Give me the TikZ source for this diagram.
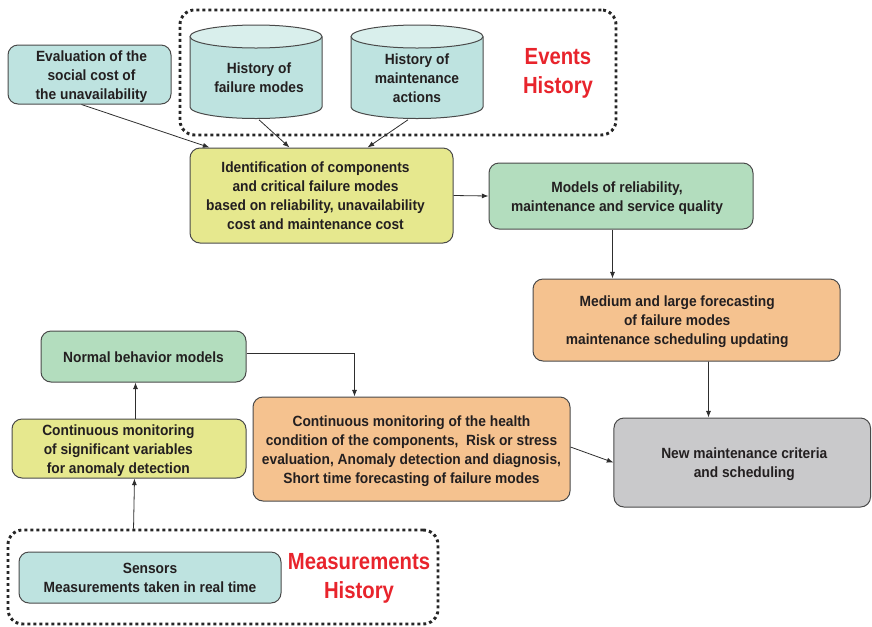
\documentclass[tikz,border=0pt]{standalone}
\usepackage{fontspec}
\setmainfont{Liberation Sans}[FakeStretch=0.93]
\newfontfamily\headfont{Liberation Sans}[FakeStretch=0.87]
\usetikzlibrary{arrows.meta,calc}

\definecolor{ink}{HTML}{231F20}
\definecolor{edge}{HTML}{4A4A4A}
\definecolor{wire}{HTML}{2E2E2E}
\definecolor{cyanfill}{HTML}{BEE3E0}
\definecolor{cyantop}{HTML}{D9EFEC}
\definecolor{yellowfill}{HTML}{E6E88E}
\definecolor{greenfill}{HTML}{B3DDBE}
\definecolor{orangefill}{HTML}{F5C28F}
\definecolor{greyfill}{HTML}{C9C9CB}
\definecolor{headred}{HTML}{E8242C}

% centred lines of text, moved sideways by #1 and slightly lowered
\newsavebox\linesbox
\newcommand\boxtext[2]{%
  \sbox\linesbox{\begin{tabular}{@{}c@{}}#2\end{tabular}}%
  \hspace*{#1}\raisebox{-1.5pt}[\ht\linesbox][\dp\linesbox]{\usebox\linesbox}\hspace*{-#1}}

% database drum centred at x = #1
\newcommand\drum[1]{%
  \filldraw[fill=cyanfill, draw=edge, line width=0.75pt]
    ({#1-66},-36.5) -- ({#1-66},-107)
    arc[start angle=180, end angle=360, x radius=49.5pt, y radius=8.625pt]
    -- ({#1+66},-36.5);
  \filldraw[fill=cyantop, draw=edge, line width=0.75pt]
    (#1,-36.5) ellipse[x radius=49.5pt, y radius=8.625pt];
}

\begin{document}
\begin{tikzpicture}[x=0.75pt, y=0.75pt,
  box/.style={draw=edge, line width=0.75pt, rounded corners=7.5pt, fill=#1,
    font=\bfseries\fontsize{11.1}{14.25}\selectfont, text=ink, inner sep=0pt},
  groupframe/.style={draw=black!85, line width=2.2pt, dash pattern=on 2.2pt off 2.3pt,
    rounded corners=11pt, inner sep=0pt},
  head/.style={font=\headfont\bfseries\fontsize{17.5}{21.5}\selectfont, text=headred,
    align=center, inner sep=0pt},
  drumlabel/.style={font=\bfseries\fontsize{11.1}{14.25}\selectfont, text=ink,
    align=center, inner sep=0pt, minimum height=62.25pt},
  arr/.style={draw=wire, line width=0.6pt, -{Latex[length=5pt, width=3.8pt]}}]

\useasboundingbox (0,0) rectangle (872,-626);

% ---- event records ----
\node[groupframe, minimum width=327pt, minimum height=93.75pt] (events) at (398,-72.5) {};
\drum{256}
\drum{417}
\node[drumlabel] (hfm) at (259,-78) {History of\\failure modes};
\node[drumlabel] (hma) at (417,-78) {History of\\maintenance\\actions};
\node[head] (evh) at (558,-73.5) {Events\\History};

% ---- upper chain ----
\node[box=cyanfill, minimum width=122.25pt, minimum height=44.25pt] (eval) at (89.5,-74.5)
  {\boxtext{1.5pt}{Evaluation of the\\social cost of\\the unavailability}};
\node[box=yellowfill, minimum width=197.25pt, minimum height=71.25pt] (ident) at (321.5,-195.5)
  {\boxtext{-4.5pt}{Identification of components\\and critical failure modes\\based on reliability, unavailability\\cost and maintenance cost}};
\node[box=greenfill, minimum width=198pt, minimum height=49.5pt] (models) at (621,-196)
  {\boxtext{-3pt}{Models of reliability,\\maintenance and service quality}};
\node[box=orangefill, minimum width=230.25pt, minimum height=61.5pt] (medium) at (686.5,-320)
  {\boxtext{-7pt}{Medium and large forecasting\\of failure modes\\maintenance scheduling updating}};
\node[box=greyfill, minimum width=192.4pt, minimum height=66.75pt] (new) at (742.25,-462.5)
  {\boxtext{1.5pt}{New maintenance criteria\\and scheduling}};

% ---- lower chain ----
\node[box=greenfill, minimum width=153.75pt, minimum height=38.25pt] (normal) at (143.5,-356.5)
  {\boxtext{0pt}{Normal behavior models}};
\node[box=yellowfill, minimum width=175.5pt, minimum height=44.25pt] (varmon) at (129,-448.5)
  {\boxtext{-8pt}{Continuous monitoring\\of significant variables\\for anomaly detection}};
\node[box=orangefill, minimum width=237.75pt, minimum height=78pt] (health) at (411.5,-449)
  {\boxtext{0pt}{Continuous monitoring of the health\\condition of the components,\ \ Risk or stress\\evaluation, Anomaly detection and diagnosis,\\Short time forecasting of failure modes}};

% ---- measurement records ----
\node[groupframe, minimum width=322.5pt, minimum height=70.5pt] (meas) at (223,-577) {};
\node[box=cyanfill, minimum width=196.5pt, minimum height=38.25pt] (sensors) at (150,-577.5)
  {\boxtext{0pt}{Sensors\\Measurements taken in real time}};
\node[head] (mh) at (359,-578.5) {Measurements\\History};

% ---- connectors ----
\draw[arr] ($(eval.south west)+(74,0)$) -- ($(ident.north west)+(20,0)$);
\draw[arr] (hfm.south) -- ($(ident.north west)+(100,0)$);
\draw[arr] ($(hma.south)+(-9,0)$) -- ($(ident.north west)+(178,0)$);
\draw[arr] (ident.east) -- (models.west);
\draw[arr] ($(models.south west)+(124,0)$) -- ($(medium.north west)+(80,0)$);
\draw[arr] ($(medium.south west)+(176,0)$) -- ($(new.north west)+(95,0)$);
\draw[arr] ($(health.east)+(0,2)$) -- (new.west);
\draw[arr] ($(normal.east)+(0,3)$) -| ($(health.north west)+(102,0)$);
\draw[arr] ($(varmon.north west)+(124,0)$) -- ($(normal.south west)+(95,0)$);
\draw[arr] ($(meas.north west)+(127,0)$) -- ($(varmon.south west)+(123,0)$);

\end{tikzpicture}
\end{document}
